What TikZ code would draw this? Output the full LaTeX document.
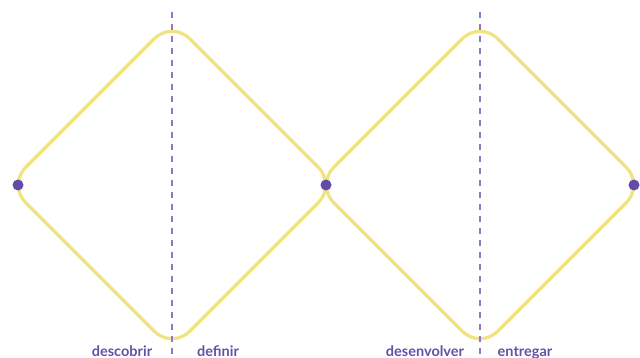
\documentclass[tikz,border=0pt]{standalone}
\usepackage{fontspec}
\setmainfont{Lato}
\usetikzlibrary{positioning}
\definecolor{loopColor}{RGB}{240,227,128}
\definecolor{dotColor}{RGB}{98,76,168}
\definecolor{guideColor}{RGB}{140,122,200}
\definecolor{labelColor}{RGB}{100,80,165}
\newcommand{\phasefont}{\fontsize{14.5}{16}\selectfont\bfseries}

\begin{document}
\begin{tikzpicture}[x=1pt, y=-1pt,
        diamondline/.style={loopColor, line width=3.2pt, rounded corners=25pt, line join=round},
        guide/.style={guideColor, line width=1.1pt, dash pattern=on 6pt off 6pt},
        dot/.style={circle, fill=dotColor, inner sep=0pt, minimum size=11pt},
        phase/.style={text=labelColor, font=\phasefont, anchor=base, inner sep=0pt}
      ]
      \useasboundingbox (0,0) rectangle (640,358);
      % corners of the two diamonds
      \coordinate (w1) at (8,185);
      \coordinate (n1) at (172,21);
      \coordinate (e1) at (336,185);
      \coordinate (s1) at (172,349);
      \coordinate (w2) at (316,185);
      \coordinate (n2) at (480,21);
      \coordinate (e2) at (644,185);
      \coordinate (s2) at (480,349);
      \draw[diamondline] (w1) -- (n1) -- (e1) -- (s1) -- cycle;
      \draw[diamondline] (w2) -- (n2) -- (e2) -- (s2) -- cycle;

      % dashed dividers
      \coordinate (top1) at (172,12);
      \coordinate (bot1) at (172,358);
      \coordinate (top2) at (480,12);
      \coordinate (bot2) at (480,358);
      \draw[guide] (top1) -- (bot1);
      \draw[guide] (top2) -- (bot2);

      \node[dot] (start) at (18,185) {};
      \node[dot] (mid) at (326,185) {};
      \node[dot] (end) at (634,185) {};

      \node[phase] (discover) at (122,356) {descobrir};
      \node[phase] (define) at (218,356) {definir};
      \node[phase] (develop) at (425,356) {desenvolver};
      \node[phase] (deliver) at (525,356) {entregar};
    \end{tikzpicture}
\end{document}
